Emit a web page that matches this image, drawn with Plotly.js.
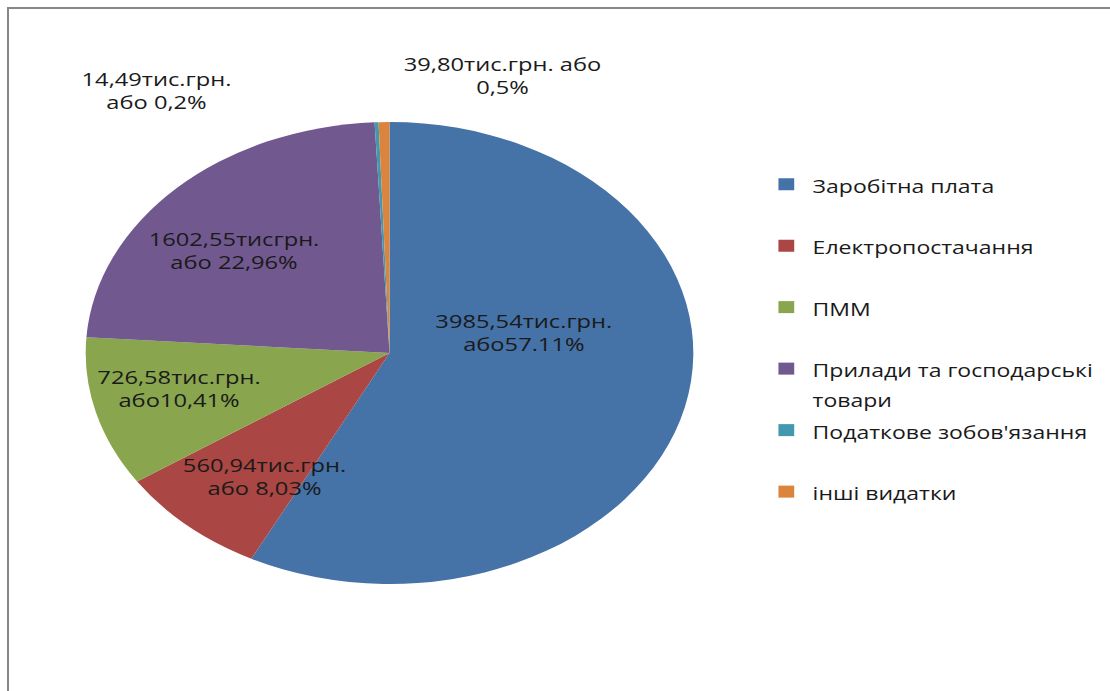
<!DOCTYPE html>
<html>
<head>
<meta charset="utf-8">
<script src="https://cdn.plot.ly/plotly-3.0.1.min.js"></script>
<style>
  html, body { margin: 0; padding: 0; background: #ffffff; overflow: hidden; }
  #frame { position: absolute; left: 7px; top: 7px; width: 1200px; height: 800px;
           border: 2px solid #878787; box-sizing: border-box; }
  #wrap { position: absolute; left: 0; top: 0; width: 844px; height: 691px;
          transform: scaleX(1.3152); transform-origin: 0 0; }
</style>
</head>
<body>
<div id="frame"></div>
<div id="wrap"><div id="chart"></div></div>
<script>
// ---- data ----
const categories = [
  'Заробітна плата',
  'Електропостачання',
  'ПММ',
  'Прилади та господарські<br>товари',
  "Податкове зобов'язання",
  'інші видатки'
];
const amounts = [3985.54, 560.94, 726.58, 1602.55, 14.49, 39.80];
const sliceLabels = [
  '3985,54тис.грн.<br>або57.11%',
  '560,94тис.грн.<br>або 8,03%',
  '726,58тис.грн.<br>або10,41%',
  '1602,55тисгрн.<br>або 22,96%',
  '14,49тис.грн.<br>або 0,2%',
  '39,80тис.грн. або<br>0,5%'
];
const colors = ['#4572A7', '#AA4643', '#89A54E', '#71588F', '#4198AF', '#DB843D'];

// ---- layout helpers (positions in final picture pixels) ----
const FW = 1110, FH = 691;
const px = x => x / FW;
const py = y => 1 - y / FH;
const labelPos = [[524, 332], [264, 476], [179, 388], [234, 250], [157, 90], [503, 75]];

const legendLabels = categories.map(c =>
  c.indexOf('<br>') >= 0
    ? '<span style="font-size:17.5px">' + c.replace('<br>', '</span><br><span style="font-size:17.5px">') + '</span>'
    : '<span style="font-size:17.5px">' + c + '</span><br>\u00a0');

const trace = {
  type: 'pie',
  labels: legendLabels,
  values: amounts,
  sort: false,
  direction: 'clockwise',
  rotation: 0,
  textinfo: 'none',
  hoverinfo: 'none',
  marker: { colors: colors, line: { width: 0 } },
  domain: { x: [px(85.5), px(693.5)], y: [py(584), py(122)] }
};

const annotations = sliceLabels.map((t, i) => ({
  text: t,
  x: px(labelPos[i][0]), y: py(labelPos[i][1]),
  xref: 'paper', yref: 'paper',
  xanchor: 'center', yanchor: 'middle',
  showarrow: false,
  font: { family: 'Open Sans, sans-serif', size: 18, color: '#1a1a1a' }
}));

const layout = {
  width: 844, height: 691,
  margin: { l: 0, r: 0, t: 0, b: 0 },
  paper_bgcolor: 'rgba(0,0,0,0)',
  showlegend: true,
  legend: {
    x: px(760), y: py(163),
    xanchor: 'left', yanchor: 'top',
    valign: 'top',
    font: { family: 'Open Sans, sans-serif', size: 22.5, color: '#1a1a1a' },
    bgcolor: 'rgba(0,0,0,0)'
  },
  annotations: annotations
};

Plotly.newPlot('chart', [trace], layout, { displayModeBar: false, staticPlot: true });
</script>
</body>
</html>
